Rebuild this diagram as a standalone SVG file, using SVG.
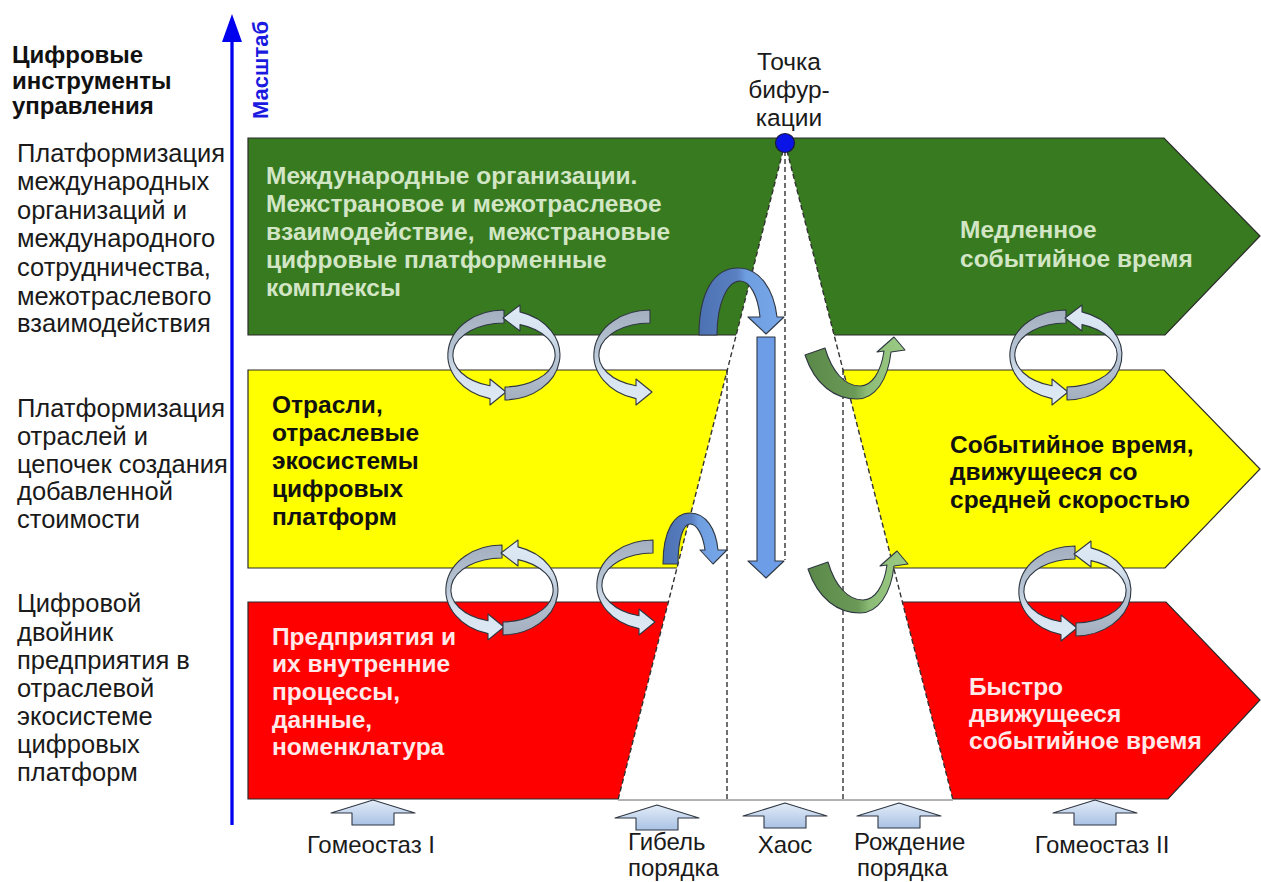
<svg xmlns="http://www.w3.org/2000/svg" width="1261" height="882" viewBox="0 0 1261 882">
<defs>
<style>
text{font-family:"Liberation Sans",Arial,"DejaVu Sans",sans-serif}
.hd{font-size:24px;font-weight:bold;fill:#111}
.lt{font-size:25.5px;fill:#1a1a1a}
.tp{font-size:24.5px;fill:#1a1a1a}
.bt{font-size:24.5px;font-weight:bold}
.gT{fill:#d2e6c6}
.yT{fill:#111}
.rT{fill:#ffe9e9}
.bl{font-size:24px;fill:#1a1a1a}
.band{stroke:#2a2a2a;stroke-width:1.2}
.dash{stroke:#333;stroke-width:1.4;stroke-dasharray:5 3;fill:none}
.ol{stroke:#2f3742;stroke-width:1.1;stroke-linejoin:round}
</style>
<linearGradient id="gA" x1="0" y1="0" x2="0" y2="1"><stop offset="0" stop-color="#a3afbf"/><stop offset="0.45" stop-color="#b9c6d5"/><stop offset="0.7" stop-color="#d7e3f0"/><stop offset="1" stop-color="#dfeaf6"/></linearGradient>
<linearGradient id="gB" x1="0" y1="0" x2="0" y2="1"><stop offset="0" stop-color="#dfeaf6"/><stop offset="0.3" stop-color="#d7e3f0"/><stop offset="0.55" stop-color="#b9c6d5"/><stop offset="1" stop-color="#a3afbf"/></linearGradient>
<linearGradient id="gBlue" x1="0" y1="0" x2="1" y2="0"><stop offset="0" stop-color="#4d72b4"/><stop offset="0.45" stop-color="#5a80c2"/><stop offset="0.55" stop-color="#6e9de0"/><stop offset="1" stop-color="#78a8ea"/></linearGradient>
<linearGradient id="gGreen" x1="0" y1="0" x2="1" y2="0"><stop offset="0" stop-color="#5a8848"/><stop offset="0.5" stop-color="#6b9a58"/><stop offset="0.62" stop-color="#8cbc76"/><stop offset="1" stop-color="#9ccb86"/></linearGradient>
<linearGradient id="gUp" x1="0" y1="0" x2="0" y2="1"><stop offset="0" stop-color="#e3ecf8"/><stop offset="1" stop-color="#a9c2e4"/></linearGradient>
<path id="arcL" d="M0,-45 A56,45 0 0 0 -14,43.6 L-14,50 L2,37 L-14,24 L-14,30.8 A51,32 0 0 1 0,-32 Z"/>
<path id="arcR" d="M1,45 A56,45 0 0 0 16,-43.1 L16,-50 L-1,-37 L16,-24 L16,-30.4 A51,32 0 0 1 1,32 Z"/>
<path id="upArr" d="M0,0 L42,13 L21,13 L21,25 L-21,25 L-21,13 L-42,13 Z"/>
<path id="grArc" d="M805,355 C815,385 835,399 857,399 C875,399 888,380 891,352 L905,350 L894,337 L877,352 L884,351 C881,372 872,386 860,386 C845,386 832,372 825,348 Z"/>
</defs>

<rect x="0" y="0" width="1261" height="882" fill="#ffffff"/>

<g id="band-green">
<polygon class="band" fill="#387a1f" points="248,138 1164,138 1260,236 1165,335 248,335"/>
<text class="bt gT"><tspan x="266" y="184">Международные организации.</tspan><tspan x="266" y="212">Межстрановое и межотраслевое</tspan><tspan x="266" y="240" style="white-space:pre">взаимодействие,  межстрановые</tspan><tspan x="266" y="268">цифровые платформенные</tspan><tspan x="266" y="296">комплексы</tspan></text>
<text class="bt gT"><tspan x="960" y="238">Медленное</tspan><tspan x="960" y="267">событийное время</tspan></text>
</g>

<g id="band-yellow">
<polygon class="band" fill="#ffff00" points="248,370 1164,370 1260,469 1165,568 248,568"/>
<text class="bt yT"><tspan x="272" y="413">Отрасли,</tspan><tspan x="272" y="441">отраслевые</tspan><tspan x="272" y="469">экосистемы</tspan><tspan x="272" y="497">цифровых</tspan><tspan x="272" y="525">платформ</tspan></text>
<text class="bt yT"><tspan x="950" y="453">Событийное время,</tspan><tspan x="950" y="480">движущееся со</tspan><tspan x="950" y="508">средней скоростью</tspan></text>
</g>

<g id="band-red">
<polygon class="band" fill="#ff0000" points="248,602 1166,602 1260,700 1168,799 248,799"/>
<text class="bt rT"><tspan x="272" y="645">Предприятия и</tspan><tspan x="272" y="672">их внутренние</tspan><tspan x="272" y="700">процессы,</tspan><tspan x="272" y="728">данные,</tspan><tspan x="272" y="755">номенклатура</tspan></text>
<text class="bt rT"><tspan x="969" y="695">Быстро</tspan><tspan x="969" y="722">движущееся</tspan><tspan x="969" y="749">событийное время</tspan></text>
</g>

<g id="cone">
<polygon fill="#ffffff" points="785,143 618,800 953,800"/>
<line x1="618" y1="800" x2="953" y2="800" stroke="#666" stroke-width="1"/>
<line class="dash" x1="785" y1="143" x2="618" y2="800"/>
<line class="dash" x1="785" y1="143" x2="953" y2="800"/>
<line class="dash" x1="785" y1="143" x2="785" y2="560"/>
<line class="dash" x1="727" y1="370" x2="727" y2="800"/>
<line class="dash" x1="843" y1="370" x2="843" y2="800"/>
</g>

<g id="bifurcation-point">
<circle cx="785" cy="143" r="9.5" fill="#0a14e6" stroke="#1a1a40" stroke-width="1.2"/>
<text class="tp" text-anchor="middle"><tspan x="789" y="70">Точка</tspan><tspan x="789" y="98">бифур-</tspan><tspan x="789" y="126">кации</tspan></text>
</g>

<g id="connectors">
<g transform="translate(504,355)"><use href="#arcL" fill="url(#gA)" class="ol"/><use href="#arcR" fill="url(#gB)" class="ol"/></g>
<g transform="translate(650,355)"><use href="#arcL" fill="url(#gA)" class="ol"/></g>
<g transform="translate(502,590)"><use href="#arcL" fill="url(#gA)" class="ol"/><use href="#arcR" fill="url(#gB)" class="ol"/></g>
<g transform="translate(653,585)"><use href="#arcL" fill="url(#gA)" class="ol"/></g>
<g transform="translate(1066,355)"><use href="#arcL" fill="url(#gA)" class="ol"/><use href="#arcR" fill="url(#gB)" class="ol"/></g>
<g transform="translate(1075,591)"><use href="#arcL" fill="url(#gA)" class="ol"/><use href="#arcR" fill="url(#gB)" class="ol"/></g>
<path class="ol" fill="url(#gBlue)" stroke="#1f3566" d="M699,335 C699,292 714,268 738,268 C760,268 774,290 777,317 L784,317 L766,334 L748,317 L760,317 C758,296 750,281 740,281 C728,281 717,302 717,335 Z"/>
<path class="ol" fill="#6d9de6" stroke="#1f3566" d="M757,337 L775,337 L775,561 L784,561 L766,578 L748,561 L757,561 Z"/>
<path class="ol" fill="url(#gBlue)" stroke="#1f3566" d="M663,564 C663,531 674,513 690,513 C706,513 716,529 718,550 L727,550 L713,564 L700,550 L705,550 C703,535 697,524 690,524 C683,524 678,540 678,564 Z"/>
<use href="#grArc" fill="url(#gGreen)" class="ol" stroke="#2e3d28"/>
<use href="#grArc" fill="url(#gGreen)" class="ol" stroke="#2e3d28" transform="translate(3,214)"/>
</g>

<g id="stage-arrows">
<use href="#upArr" x="373" y="800" fill="url(#gUp)" class="ol"/>
<use href="#upArr" x="657" y="805" fill="url(#gUp)" class="ol"/>
<use href="#upArr" x="785" y="803" fill="url(#gUp)" class="ol"/>
<use href="#upArr" x="899" y="803" fill="url(#gUp)" class="ol"/>
<use href="#upArr" x="1095" y="800" fill="url(#gUp)" class="ol"/>
</g>

<g id="stage-labels">
<text class="bl" x="371" y="853" text-anchor="middle">Гомеостаз I</text>
<text class="bl"><tspan x="628" y="850">Гибель</tspan><tspan x="628" y="876">порядка</tspan></text>
<text class="bl" x="785" y="853" text-anchor="middle">Хаос</text>
<text class="bl"><tspan x="854" y="850">Рождение</tspan><tspan x="857" y="876">порядка</tspan></text>
<text class="bl" x="1102" y="853" text-anchor="middle">Гомеостаз II</text>
</g>

<g id="left-labels">
<text class="hd"><tspan x="12" y="63">Цифровые</tspan><tspan x="12" y="89">инструменты</tspan><tspan x="12" y="114">управления</tspan></text>
<text class="lt"><tspan x="17" y="162">Платформизация</tspan><tspan x="17" y="190">международных</tspan><tspan x="17" y="219">организаций и</tspan><tspan x="17" y="247">международного</tspan><tspan x="17" y="276">сотрудничества,</tspan><tspan x="17" y="305">межотраслевого</tspan><tspan x="17" y="332">взаимодействия</tspan></text>
<text class="lt"><tspan x="17" y="417">Платформизация</tspan><tspan x="17" y="445">отраслей и</tspan><tspan x="17" y="473">цепочек создания</tspan><tspan x="17" y="500">добавленной</tspan><tspan x="17" y="528">стоимости</tspan></text>
<text class="lt"><tspan x="17" y="612">Цифровой</tspan><tspan x="17" y="641">двойник</tspan><tspan x="17" y="669">предприятия в</tspan><tspan x="17" y="697">отраслевой</tspan><tspan x="17" y="725">экосистеме</tspan><tspan x="17" y="753">цифровых</tspan><tspan x="17" y="781">платформ</tspan></text>
</g>

<g id="scale-axis">
<line x1="232" y1="825" x2="232" y2="38" stroke="#0000ee" stroke-width="3.3"/>
<polygon points="232,14 242,42 222,42" fill="#0000ee"/>
<text transform="translate(268,119) rotate(-90)" style="font-size:22px;font-weight:bold;fill:#1a1ae0">Масштаб</text>
</g>
</svg>
